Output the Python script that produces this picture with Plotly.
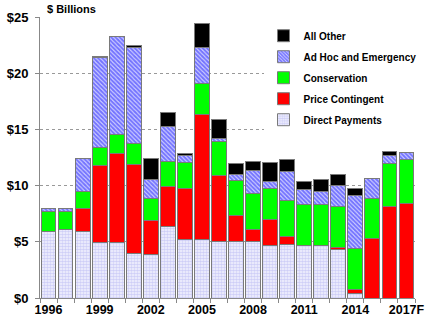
import plotly.graph_objects as go

# Farm program payments by category, $ billions (2017 is a forecast)
years = [str(y) for y in range(1996, 2017)] + ["2017F"]
year_labels = ["1996", "", "", "1999", "", "", "2002", "", "", "2005", "", "",
               "2008", "", "", "2011", "", "", "2014", "", "", "2017F"]

direct_payments = [5.92, 6.10, 5.92, 4.98, 4.98, 3.94, 3.85, 6.37, 5.18, 5.18, 5.03,
                   5.03, 5.03, 4.71, 4.80, 4.71, 4.71, 4.29, 0.44, 0, 0, 0]
price_contingent = [0, 0, 2.04, 6.81, 7.91, 7.97, 3.05, 3.59, 4.60, 11.14, 5.90,
                    2.35, 1.07, 2.25, 0.65, 0, 0, 0.21, 0.32, 5.27, 8.18, 8.38]
conservation = [1.81, 1.63, 1.55, 1.63, 1.69, 1.87, 1.99, 2.18, 2.31, 2.79, 2.96,
                3.05, 3.17, 2.82, 3.23, 3.65, 3.65, 3.68, 3.60, 3.58, 3.82, 3.98]
ad_hoc = [0.23, 0.23, 2.87, 7.97, 8.67, 8.53, 1.69, 3.09, 0.56, 3.20, 0.27,
          0.56, 2.11, 0.56, 2.61, 1.33, 1.09, 1.86, 4.76, 1.82, 0.65, 0.62]
all_other = [0, 0, 0, 0.12, 0, 0.12, 1.86, 1.27, 0.20, 2.10, 1.75,
             0.97, 0.80, 1.75, 1.00, 0.71, 1.13, 0.98, 0.66, 0, 0.42, 0]

FONT = "Liberation Sans, Arial, sans-serif"
EDGE = dict(color="#7a7a7a", width=1)


def nz(vals):
    # empty segments are left out so they draw no outline
    return [v if v else None for v in vals]


series = [
    ("Direct Payments", direct_payments,
     dict(color="white", line=EDGE,
          pattern=dict(shape=".", fgcolor="#a8a8f0", bgcolor="#f4f4fe", size=3, solidity=0.6))),
    ("Price Contingent", price_contingent, dict(color="#ff0000", line=EDGE)),
    ("Conservation", conservation, dict(color="#00ff00", line=EDGE)),
    ("Ad Hoc and Emergency", ad_hoc,
     dict(color="white", line=EDGE,
          pattern=dict(shape="\\", fgcolor="#1414ff", bgcolor="#d4d4ff", size=3, solidity=0.65))),
    ("All Other", all_other, dict(color="#000000", line=EDGE)),
]

fig = go.Figure()
n = len(series)
for i, (name, vals, marker) in enumerate(series):
    fig.add_trace(go.Bar(x=years, y=nz(vals), name=name, marker=marker,
                         legendgroup=name, legendrank=n - i))

fig.update_layout(
    width=431, height=325,
    margin=dict(l=38, r=7, t=17, b=27),
    barmode="stack", bargap=0.13,
    plot_bgcolor="white", paper_bgcolor="white",
    font=dict(family=FONT, size=12, color="black", weight="bold"),
    showlegend=True,
    legend=dict(traceorder="grouped", tracegroupgap=2,
                x=0.596, y=0.985, xanchor="left", yanchor="top",
                bgcolor="white", borderwidth=0,
                font=dict(family=FONT, size=10, color="black", weight="bold")),
    xaxis=dict(type="category", tickmode="array", tickvals=years, ticktext=year_labels,
               tickson="boundaries", ticks="outside", ticklen=4, tickcolor="#888",
               tickangle=0,
               showline=True, linecolor="#888", linewidth=1, showgrid=False,
               tickfont=dict(family=FONT, size=12.5, weight="bold")),
    yaxis=dict(range=[0, 25], dtick=5, tickprefix="$", ticks="outside", ticklen=4,
               tickcolor="#888", showline=True, linecolor="#888", linewidth=1,
               showgrid=True, gridcolor="#999", griddash="dot", gridwidth=1,
               zeroline=False, ticklabelstandoff=4,
               tickfont=dict(family=FONT, size=13, weight="bold")),
    annotations=[dict(text="$ Billions", xref="paper", yref="paper", x=0.012, y=1.0,
                      xanchor="left", yanchor="bottom", showarrow=False,
                      font=dict(family=FONT, size=11, weight="bold"))],
)

fig.write_html("out.html")
